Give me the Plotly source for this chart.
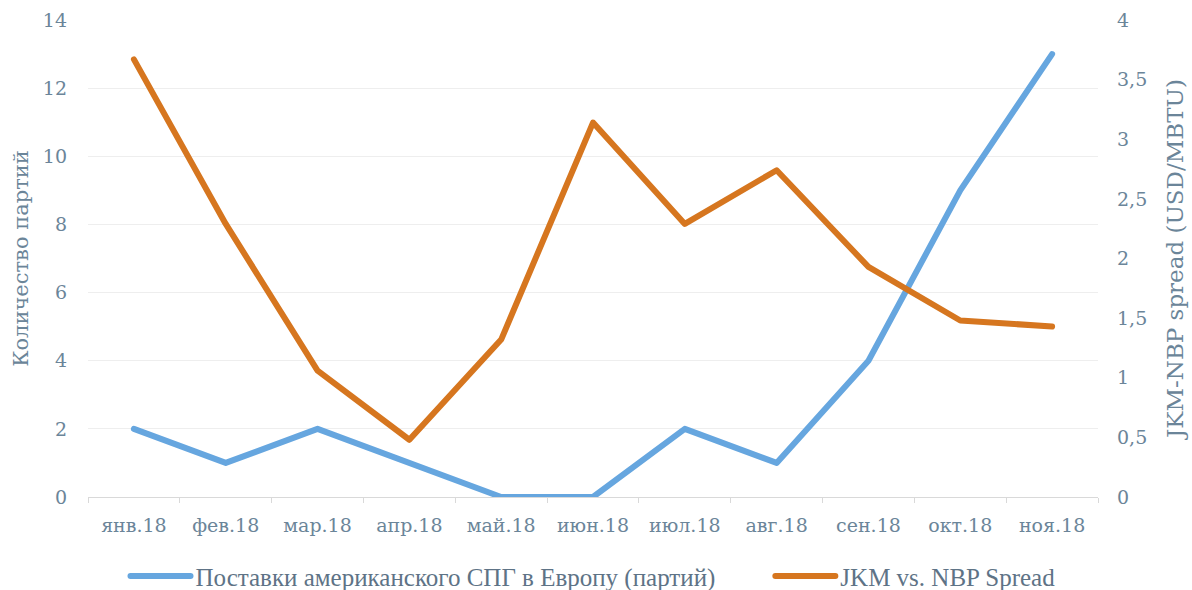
import plotly.graph_objects as go

months = ["янв.18", "фев.18", "мар.18", "апр.18", "май.18", "июн.18",
          "июл.18", "авг.18", "сен.18", "окт.18", "ноя.18"]
cargoes = [2, 1, 2, 1, 0, 0, 2, 1, 4, 9, 13]
spread = [3.67, 2.29, 1.06, 0.48, 1.32, 3.14, 2.29, 2.74, 1.93, 1.48, 1.43]

FONT = "DejaVu Serif"
TXT = "#6b8599"

fig = go.Figure()
fig.add_trace(go.Scatter(
    x=months, y=cargoes, mode="lines",
    name="Поставки американского СПГ в Европу (партий)" + "\u00a0" * 8,
    line=dict(color="#66a6df", width=6),
    yaxis="y",
))
fig.add_trace(go.Scatter(
    x=months, y=spread, mode="lines",
    name="JKM vs. NBP Spread",
    line=dict(color="#d6761f", width=6),
    yaxis="y2",
))

fig.update_layout(
    width=1192, height=590,
    margin=dict(l=88, r=94, t=20, b=93, autoexpand=False),
    paper_bgcolor="white", plot_bgcolor="white",
    separators=", ",
    font=dict(family=FONT, size=19, color=TXT),
    showlegend=True,
    legend=dict(orientation="h", x=0.5, xanchor="center", y=-0.166, yanchor="middle",
                font=dict(family="Liberation Serif", size=25, color="#5e7386"), itemwidth=60,
                traceorder="normal"),
    xaxis=dict(type="category", range=[-0.5, 10.5], showline=True, linecolor="#d9d9d9", linewidth=1,
               ticks="outside", tickson="boundaries", ticklen=5, tickcolor="#d9d9d9",
               showgrid=False, automargin=False, ticklabelstandoff=11,
               tickfont=dict(size=19, color=TXT)),
    yaxis=dict(range=[0, 14], dtick=2, showgrid=True, gridcolor="#eeeeee",
               zeroline=False, showline=False, ticks="", automargin=False,
               ticklabelstandoff=20,
               title=dict(text="Количество партий", font=dict(size=21, color=TXT), standoff=8),
               tickfont=dict(size=19, color=TXT)),
    yaxis2=dict(range=[0, 4], dtick=0.5, overlaying="y", side="right",
                showgrid=False, zeroline=False, showline=False, automargin=False,
                ticklabelstandoff=18,
                title=dict(text="JKM-NBP spread (USD/MBTU)", font=dict(size=23, color=TXT), standoff=20),
                tickfont=dict(size=19, color=TXT)),
)

post = """
document.body.style.margin='0';
document.querySelectorAll('.scatterlayer path.js-line, .legendlines path').forEach(function(p){
  p.style.strokeLinecap='round'; p.style.strokeLinejoin='round';
});
"""
fig.write_html("out.html", config={"displayModeBar": False}, post_script=post)
